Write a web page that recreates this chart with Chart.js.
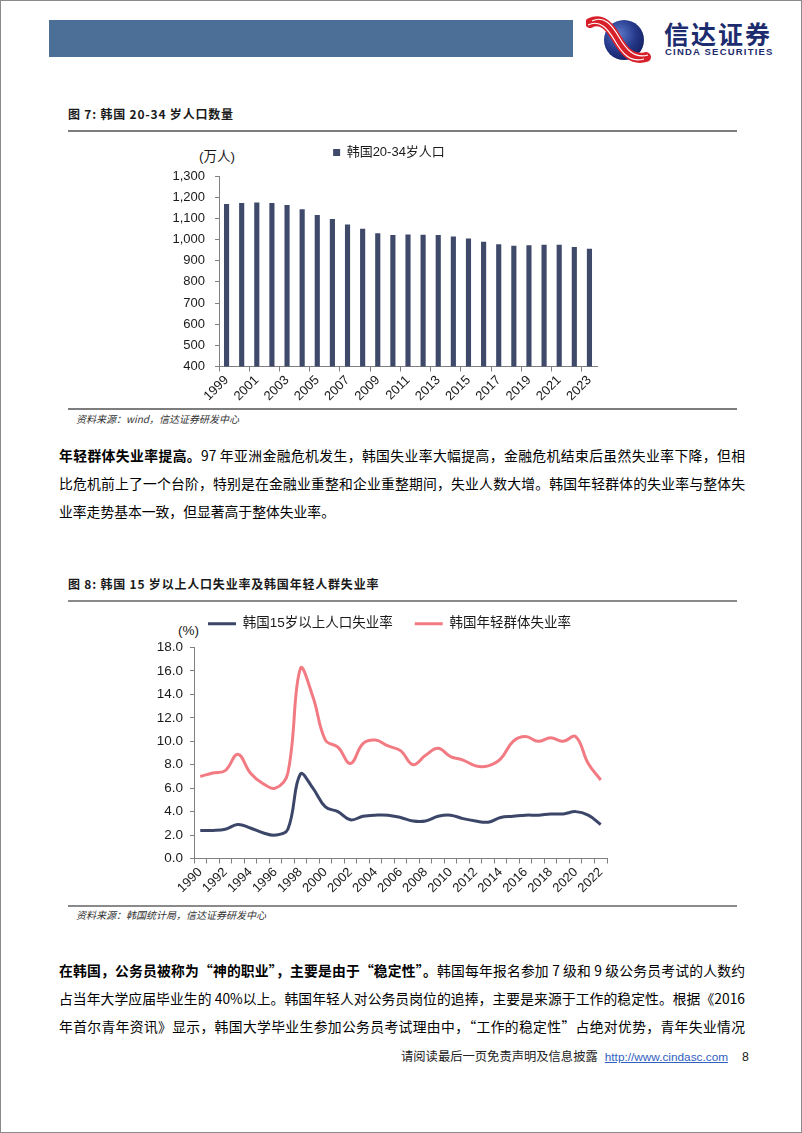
<!DOCTYPE html>
<html><head><meta charset="utf-8">
<script src="https://cdn.jsdelivr.net/npm/chart.js@4.4.1/dist/chart.umd.min.js"></script>
<style>
html,body{margin:0;padding:0;background:#fff;}
body{width:802px;height:1133px;position:relative;overflow:hidden;font-family:"Noto Sans CJK SC","Liberation Sans",sans-serif;color:#111;}
.frame{position:absolute;left:0;top:0;width:800px;height:1131px;border:1px solid #8a8a8a;pointer-events:none;}
.abs{position:absolute;white-space:nowrap;}
.hdr{left:49px;top:20px;width:524px;height:37px;background:#4b6f97;}
.brand{left:664px;top:18px;font-size:25px;font-weight:700;color:#1d2c6e;letter-spacing:2px;line-height:30px;}
.brand2{left:665px;top:46px;font-family:"Liberation Sans",Arial,sans-serif;font-size:9.5px;font-weight:700;color:#1d2c6e;letter-spacing:1.2px;line-height:11px;}
.ttl{left:68px;font-size:12px;font-weight:700;line-height:16px;letter-spacing:0.8px;color:#1a1a1a;}
.rule{left:68px;width:669px;background:#7d7d7d;}
.src{left:76px;font-size:10px;line-height:14px;color:#333;font-style:italic;}
.unit{font-family:"Liberation Sans","Noto Sans CJK SC",sans-serif;font-size:13.5px;line-height:16px;color:#1a1a1a;}
.para{left:59px;width:686px;font-size:13.8px;line-height:28px;color:#000;}
.para div{text-align:justify;text-align-last:justify;height:28px;}
.para div.last{text-align-last:left;}
.para b{font-weight:700;}
.foot{top:1048px;left:401px;font-size:12.3px;line-height:16px;color:#222;}
.foot a{font-family:"Liberation Sans",Arial,sans-serif;font-size:11.8px;color:#3060c0;text-decoration:underline;margin-left:7px;}
.foot span.pg{font-family:"Liberation Sans",Arial,sans-serif;margin-left:14px;}
canvas{position:absolute;}
</style></head>
<body>
<div class="frame"></div>
<div class="abs hdr"></div>
<svg class="abs" style="left:586px;top:15px" width="70" height="48" viewBox="0 0 70 48">
  <defs>
    <radialGradient id="g1" cx="0.38" cy="0.35" r="0.75">
      <stop offset="0" stop-color="#5b78c8"/>
      <stop offset="0.55" stop-color="#26398a"/>
      <stop offset="1" stop-color="#101c5c"/>
    </radialGradient>
  </defs>
  <circle cx="38" cy="25" r="20" fill="url(#g1)"/>
  <path d="M4,8 C16,2 24,12 31,24 S46,46 60,42" stroke="#d8202a" stroke-width="10" fill="none" stroke-linecap="round"/>
  <path d="M4,8 C16,2 24,12 31,24 S46,46 60,42" stroke="#fff" stroke-width="1.1" fill="none" transform="translate(-2,2)"/>
  <path d="M4,8 C16,2 24,12 31,24 S46,46 60,42" stroke="#fff" stroke-width="1.1" fill="none" transform="translate(2,-2)"/>
</svg>
<div class="abs brand">信达证券</div>
<div class="abs brand2">CINDA SECURITIES</div>

<div class="abs ttl" style="top:106px">图 7: 韩国 20-34 岁人口数量</div>
<div class="abs rule" style="top:130px;height:2px"></div>
<div class="abs unit" style="left:199px;top:149px">(万人)</div>
<canvas id="c1" width="466" height="267" style="left:155px;top:138px"></canvas>
<div class="abs rule" style="top:408px;height:2px"></div>
<div class="abs src" style="top:412px">资料来源：wind，信达证券研发中心</div>

<div class="abs para" style="top:441px">
  <div><b>年轻群体失业率提高。</b>97 年亚洲金融危机发生，韩国失业率大幅提高，金融危机结束后虽然失业率下降，但相</div>
  <div>比危机前上了一个台阶，特别是在金融业重整和企业重整期间，失业人数大增。韩国年轻群体的失业率与整体失</div>
  <div class="last">业率走势基本一致，但显著高于整体失业率。</div>
</div>

<div class="abs ttl" style="top:576px">图 8: 韩国 15 岁以上人口失业率及韩国年轻人群失业率</div>
<div class="abs rule" style="top:600px;height:1.5px;background:#8a8a8a"></div>
<div class="abs unit" style="left:178px;top:623px">(%)</div>
<canvas id="c2" width="500" height="302" style="left:140px;top:595px"></canvas>
<div class="abs rule" style="top:905px;height:1.5px;background:#8a8a8a"></div>
<div class="abs src" style="top:908px">资料来源：韩国统计局，信达证券研发中心</div>

<div class="abs para" style="top:956px">
  <div><b>在韩国，公务员被称为“神的职业”，主要是由于“稳定性”。</b>韩国每年报名参加 7 级和 9 级公务员考试的人数约</div>
  <div>占当年大学应届毕业生的 40%以上。韩国年轻人对公务员岗位的追捧，主要是来源于工作的稳定性。根据《2016</div>
  <div>年首尔青年资讯》显示，韩国大学毕业生参加公务员考试理由中，“工作的稳定性”占绝对优势，青年失业情况</div>
</div>

<div class="abs foot">请阅读最后一页免责声明及信息披露<a>http://www.cindasc.com</a><span class="pg">8</span></div>

<script>
// ---- Data: Figure 7 ----
const popYears = ['1999','2000','2001','2002','2003','2004','2005','2006','2007','2008','2009','2010','2011','2012','2013','2014','2015','2016','2017','2018','2019','2020','2021','2022','2023'];
const popValues = [1168,1173,1175,1173,1163,1143,1116,1097,1071,1051,1030,1021,1024,1022,1021,1014,1005,989,978,970,973,975,975,965,956];
const popLabel = '韩国20-34岁人口';
const popAxisMin = 400, popAxisMax = 1300, popAxisStep = 100;

// ---- Data: Figure 8 ----
const rateYears = ['1990','1991','1992','1993','1994','1995','1996','1997','1998','1999','2000','2001','2002','2003','2004','2005','2006','2007','2008','2009','2010','2011','2012','2013','2014','2015','2016','2017','2018','2019','2020','2021','2022'];
const rateTotal = [2.4,2.4,2.5,2.9,2.6,2.2,2.0,2.5,7.2,6.0,4.4,4.0,3.3,3.6,3.7,3.7,3.5,3.2,3.2,3.6,3.7,3.4,3.2,3.1,3.5,3.6,3.7,3.7,3.8,3.8,4.0,3.7,2.9];
const rateYouth = [7.0,7.3,7.5,8.9,7.3,6.4,6.0,7.3,16.2,13.8,10.1,9.5,8.1,9.8,10.1,9.6,9.2,8.0,8.8,9.4,8.7,8.4,7.9,7.9,8.5,10.0,10.4,10.0,10.3,10.0,10.4,8.1,6.7];
const rateTotalLabel = '韩国15岁以上人口失业率';
const rateYouthLabel = '韩国年轻群体失业率';
const rateAxisMin = 0, rateAxisMax = 18, rateAxisStep = 2;

Chart.defaults.font.family = '"Liberation Sans", Arial, "Noto Sans CJK SC", sans-serif';
Chart.defaults.color = '#1a1a1a';
Chart.defaults.animation = false;
const axisGrey = '#808080';

// extra space below the legend, and a horizontal nudge of the legend row
const legendTweak = {
  id: 'legendTweak',
  beforeInit(chart, args, opts) {
    const legend = chart.legend;
    if (!legend) return;
    const origFit = legend.fit;
    legend.fit = function () { origFit.call(this); this.height += (opts.extra || 0); };
  },
  afterLayout(chart, args, opts) {
    const legend = chart.legend;
    if (!legend) return;
    legend.left += (opts.shift || 0);
    legend.right += (opts.shift || 0);
  }
};

new Chart(document.getElementById('c1'), {
  type: 'bar',
  data: { labels: popYears, datasets: [{ label: popLabel, data: popValues, backgroundColor: '#3f4a6b', categoryPercentage: 1, barPercentage: 0.34 }] },
  plugins: [legendTweak],
  options: {
    responsive: false, animation: false,
    layout: { padding: { top: 0, right: 24, left: 0, bottom: 0 } },
    plugins: {
      legendTweak: { extra: 7, shift: 13 },
      legend: { display: true, position: 'top', labels: { boxWidth: 7, boxHeight: 7, font: { size: 13 }, color: '#1a1a1a', padding: 8 } },
      tooltip: { enabled: false }
    },
    scales: {
      x: {
        grid: { offset: true, drawOnChartArea: false, drawTicks: true, tickLength: 5, color: c => (c.index % 2 === 0 ? axisGrey : 'rgba(0,0,0,0)') },
        border: { color: axisGrey },
        ticks: { autoSkip: false, maxRotation: 45, minRotation: 45, font: { size: 13 }, padding: 1, callback: (v, i) => (i % 2 === 0 ? popYears[i] : '') }
      },
      y: {
        min: popAxisMin, max: popAxisMax,
        ticks: { stepSize: popAxisStep, font: { size: 13 }, padding: 10, callback: v => v.toLocaleString('en-US') },
        grid: { drawOnChartArea: false, tickLength: 4, color: axisGrey },
        border: { color: axisGrey },
        afterFit: s => { s.width = 64; }
      }
    }
  }
});

new Chart(document.getElementById('c2'), {
  type: 'line',
  data: { labels: rateYears, datasets: [
    { label: rateTotalLabel, data: rateTotal, borderColor: '#3b4669', backgroundColor: '#3b4669', borderWidth: 3, pointRadius: 0, tension: 0.4, fill: false },
    { label: rateYouthLabel, data: rateYouth, borderColor: '#f27a82', backgroundColor: '#f27a82', borderWidth: 3, pointRadius: 0, tension: 0.4, fill: false }
  ] },
  plugins: [legendTweak],
  options: {
    responsive: false, animation: false,
    layout: { padding: { top: 0, right: 33, left: 0, bottom: 0 } },
    plugins: {
      legendTweak: { extra: 7, shift: 16 },
      legend: { display: true, position: 'top', labels: { usePointStyle: true, pointStyle: 'line', pointStyleWidth: 28, font: { size: 13.5 }, color: '#1a1a1a', padding: 22 } },
      tooltip: { enabled: false }
    },
    scales: {
      x: {
        offset: true,
        grid: { offset: true, drawOnChartArea: false, drawTicks: true, tickLength: 5, color: axisGrey },
        border: { color: axisGrey },
        ticks: { autoSkip: false, maxRotation: 45, minRotation: 45, font: { size: 13 }, padding: 1, callback: (v, i) => (i % 2 === 0 ? rateYears[i] : '') }
      },
      y: {
        min: rateAxisMin, max: rateAxisMax,
        ticks: { stepSize: rateAxisStep, font: { size: 13.5 }, padding: 7, callback: v => v.toFixed(1) },
        grid: { drawOnChartArea: false, tickLength: 4, color: axisGrey },
        border: { color: axisGrey },
        afterFit: s => { s.width = 54; }
      }
    }
  }
});
</script>
</body></html>
